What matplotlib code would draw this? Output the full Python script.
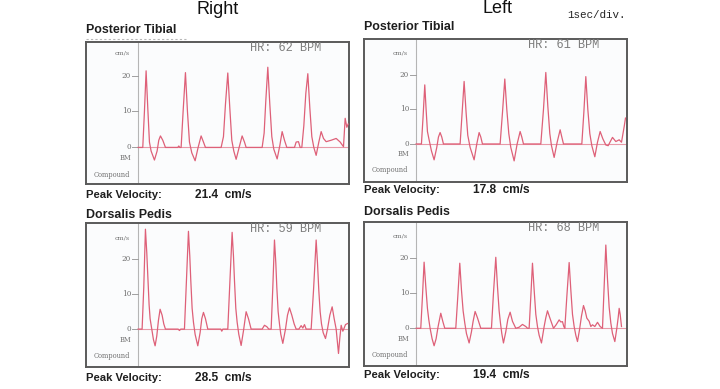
import matplotlib
matplotlib.use("Agg")
import matplotlib.pyplot as plt
from matplotlib.lines import Line2D

# ---------------- data (time in s from the vertical axis, velocity in cm/s) ----------------
right_pt_t = [0, 0.112, 0.152, 0.192, 0.232, 0.272, 0.312, 0.392, 0.456, 0.496, 0.536, 0.592, 0.656,
              0.952, 0.976, 1.000, 1.032, 1.080, 1.136, 1.184, 1.232, 1.288, 1.368, 1.440, 1.512, 1.568, 1.616,
              1.992, 2.048, 2.096, 2.152, 2.200, 2.248, 2.296, 2.352, 2.424, 2.496, 2.552, 2.592,
              2.976, 3.024, 3.064, 3.112, 3.160, 3.208, 3.256, 3.336, 3.400, 3.456, 3.512, 3.568,
              3.752, 3.792, 3.848, 3.888, 3.928, 3.976, 4.024, 4.072, 4.120, 4.168, 4.216, 4.272, 4.336,
              4.392, 4.448, 4.512, 4.632, 4.752, 4.848, 4.928, 4.968, 5.008, 5.040]
right_pt_v = [0, 0, 10, 21.3, 11, 1.5, -1, -3.5, -1, 2, 3.2, 2, 0,
              0, 0.4, 0, 0, 10, 20.8, 10, 1.5, -1.5, -3.7, 0, 3.2, 1.5, 0,
              0, 3, 12, 20.7, 11, 2, -1, -3.3, 0, 3.2, 1.5, 0,
              0, 4, 13, 22.3, 12, 3, -0.5, -3.2, 0.5, 4.4, 2, 0,
              0, 1.5, 1.6, 0, 0, 6, 15, 20.5, 11, 3, 0, -2.2, 1.5,
              4.4, 2.5, 1.6, 2, 2.5, 1.5, 0.2, 8.1, 5.6, 6.5]

left_pt_t = [0, 0.128, 0.168, 0.208, 0.240, 0.272, 0.312, 0.368, 0.432, 0.496, 0.536, 0.576, 0.616, 0.656,
             1.016, 1.056, 1.104, 1.152, 1.200, 1.240, 1.296, 1.392, 1.456, 1.512, 1.552, 1.592,
             1.976, 2.016, 2.072, 2.128, 2.176, 2.224, 2.272, 2.352, 2.424, 2.496, 2.536, 2.576,
             2.952, 2.992, 3.056, 3.112, 3.160, 3.208, 3.248, 3.312, 3.384, 3.456, 3.496, 3.536,
             3.936, 3.976, 4.024, 4.072, 4.120, 4.168, 4.216, 4.288, 4.352, 4.416, 4.480, 4.552,
             4.608, 4.664, 4.712, 4.792, 4.872, 4.928, 4.992, 5.024]
left_pt_v = [0, 0, 8, 17.1, 10, 3.6, 1.2, -2, -4.6, -1, 2, 3.3, 2, 0,
             0, 0, 9, 18.1, 9, 2.5, -1, -4.6, 0, 3.3, 2, 0,
             0, 0, 9, 18.8, 10, 3, -1, -4.9, 0, 3.6, 2, 0,
             0, 0, 10, 20.7, 11, 3, -0.5, -3.9, 0.5, 4.1, 2, 0,
             0, 0, 9, 19.5, 10, 3, -0.5, -3.7, 0.5, 3.6, 1.5, -0.3,
             -0.5, 0.8, 1.9, 0.7, 1.2, 0.5, 5.0, 7.5]

right_dp_t = [0, 0.096, 0.136, 0.176, 0.208, 0.232, 0.264, 0.288, 0.328, 0.368, 0.408, 0.448, 0.488, 0.528,
              0.576, 0.616, 0.656,
              0.960, 0.992, 1.024, 1.112, 1.160, 1.208, 1.240, 1.264, 1.296, 1.328, 1.368, 1.432, 1.488,
              1.528, 1.568, 1.616, 1.672,
              1.984, 2.008, 2.032, 2.152, 2.200, 2.256, 2.288, 2.312, 2.344, 2.376, 2.416, 2.472, 2.528,
              2.592, 2.648, 2.712,
              2.976, 3.032, 3.088, 3.136, 3.192, 3.232, 3.272, 3.304, 3.328, 3.360, 3.392, 3.424, 3.472,
              3.536, 3.584, 3.632, 3.688, 3.744, 3.792, 3.856, 3.912, 3.952, 3.992, 4.032,
              4.112, 4.152, 4.208, 4.272, 4.304, 4.336, 4.368, 4.400, 4.440, 4.496, 4.544, 4.600, 4.656,
              4.704, 4.752, 4.784, 4.808, 4.840, 4.872, 4.912, 4.944, 4.976, 5.024]
right_dp_v = [0, 0, 12, 28.7, 22, 15.5, 7, 3, 0, -3, -4.8, -2, 2.5, 5.7,
              4, 1.5, 0,
              0, -0.4, 0, 0, 14, 28.1, 21, 14, 6, 2, -1.5, -4.8, -1,
              3, 4.8, 3, 0,
              0, -0.6, 0, 0, 13, 27.8, 21, 14, 6, 2, -1.5, -4.7, -0.5,
              5.0, 3, 0,
              0, 1.1, 0.7, 0, 0, 12, 25.6, 19, 12, 5, 1.5, -1.5, -4.1,
              0, 4, 6.1, 4, 1.5, 0, 0, 1.0, 0.3, 1.3, 0,
              0, 0, 11, 25.6, 19, 11, 5, 1.5, -1, -2.7, 0, 4, 6.4,
              3, 0, -4, -7.0, -2.5, 1.1, -0.6, 0.3, 1.3, 1.6]

left_dp_t = [0, 0.112, 0.152, 0.192, 0.232, 0.272, 0.304, 0.336, 0.384, 0.432, 0.480, 0.528, 0.592, 0.640, 0.688,
             0.912, 0.952, 1.000, 1.048, 1.088, 1.128, 1.168, 1.208, 1.272, 1.328, 1.368, 1.416, 1.472, 1.552,
             1.768, 1.808, 1.856, 1.912, 1.952, 1.992, 2.024, 2.056, 2.096, 2.152, 2.200, 2.256, 2.312,
             2.392, 2.472, 2.552, 2.632, 2.672,
             2.712, 2.752, 2.792, 2.832, 2.872, 2.912, 2.952, 3.008, 3.072, 3.112, 3.152, 3.208, 3.296,
             3.360, 3.432, 3.472, 3.512, 3.544,
             3.568, 3.616, 3.672, 3.712, 3.752, 3.792, 3.832, 3.872, 3.920, 3.968, 4.016, 4.056, 4.096,
             4.152, 4.192, 4.232, 4.288, 4.352, 4.416,
             4.472, 4.512, 4.552, 4.592, 4.632, 4.672, 4.712, 4.768, 4.816, 4.848, 4.872, 4.896, 4.928]
left_dp_v = [0, 0, 9, 18.9, 12, 5.7, 2.5, 0, -3, -5.0, -3, 0.5, 4.3, 2, 0,
             0, 0, 9, 18.6, 11, 5, 1.5, -1.5, -4.2, -1, 2, 4.8, 3, 0,
             0, 0, 10, 20.3, 12, 5, 1.5, -1.5, -4.2, -1, 2.5, 4.6, 2,
             0, 0.3, 1.1, 0.5, 0,
             0, 9, 18.6, 11, 4, 0.5, -2, -4.2, 0.5, 3, 5.0, 3, 0,
             1, 2.4, 1.8, 1.9, 0.5,
             0, 9, 18.8, 11, 4, 0.5, -2, -3.8, -0.5, 3.5, 6.5, 5, 2.9,
             2, 0.5, 1, 0.5, 1.7, 0.5,
             0, 12, 23.8, 14, 6, 1.5, -1.5, -3.8, 0, 3, 5.7, 4, 0.5]

side_titles = ["Right", "Left"]
vessel_names = ["Posterior Tibial", "Posterior Tibial", "Dorsalis Pedis", "Dorsalis Pedis"]
heart_rates = [62, 61, 59, 68]
peak_velocities = ["21.4", "17.8", "28.5", "19.4"]
y_ticks = [0, 10, 20]

series_t = [right_pt_t, left_pt_t, right_dp_t, left_dp_t]
series_v = [right_pt_v, left_pt_v, right_dp_v, left_dp_v]

# ---------------- layout (pixel boxes: left, top, right, bottom) ----------------
W, H = 720, 389
boxes = [(86, 41.7, 349, 184.3), (364, 39.3, 627, 182.3),
         (86, 223.3, 349, 366.7), (364, 222.3, 627, 365.7)]
ylims = [(-10.25, 29.4), (-11.1, 30.3), (-10.8, 30.4), (-10.7, 30.3)]
name_y = [30, 27, 215, 212]
peak_y = [195, 190, 378, 375]
XLIM = (-1.25, 5.06)

wave_color = "#de6078"
zero_color = "#e89aa8"
frame_color = "#5a5a5a"
label_color = "#707070"
text_color = "#1e1e1e"

fig = plt.figure(figsize=(W / 100, H / 100), dpi=100)
fig.patch.set_facecolor("white")


def fx(x):
    return x / W


def fy(y):
    return 1 - y / H


for i in range(4):
    l, t, r, b = boxes[i]
    ax = fig.add_axes([fx(l), fy(b), (r - l) / W, (b - t) / H])
    ax.set_facecolor("#fbfcfd")
    ax.set_xlim(*XLIM)
    ax.set_ylim(*ylims[i])
    ax.set_xticks([])
    ax.set_yticks([])
    for s in ax.spines.values():
        s.set_color(frame_color)
        s.set_linewidth(1.4)

    ax.axvline(0, color="#b5b5b5", lw=0.8, zorder=1)
    ax.plot([0, XLIM[1]], [0, 0], color=zero_color, lw=0.8, zorder=2)
    for v in y_ticks:
        ax.plot([-0.14, 0], [v, v], color="#a0a0a0", lw=0.7, zorder=1)
        ax.text(-0.17, v, str(v), ha="right", va="center", fontsize=5.2,
                family="DejaVu Serif", color=label_color)
    ax.text(-0.39, 26.3, "cm/s", ha="center", va="center", fontsize=4.6,
            family="DejaVu Serif", color=label_color)
    ax.text(-0.30, -3.0, "BM", ha="center", va="center", fontsize=4.8,
            family="DejaVu Serif", color=label_color)
    ax.text(-0.62, -7.6, "Compound", ha="center", va="center", fontsize=4.8,
            family="DejaVu Serif", color=label_color)

    ax.plot(series_t[i], series_v[i], color=wave_color, lw=0.9, zorder=3,
            solid_joinstyle="round")

    ax.text(0.624, 0.958, f"HR: {heart_rates[i]} BPM", transform=ax.transAxes,
            ha="left", va="center", fontsize=8.6, family="Liberation Mono", color="#7d7d7d")

    fig.text(fx(l), fy(name_y[i]), vessel_names[i], ha="left", va="center",
             fontsize=8.9, family="Liberation Sans", weight="bold", color=text_color)
    fig.text(fx(l), fy(peak_y[i]), "Peak Velocity:", ha="left", va="center",
             fontsize=8.1, family="Liberation Sans", weight="bold", color=text_color)
    fig.text(fx(l + 109), fy(peak_y[i]), f"{peak_velocities[i]}  cm/s", ha="left",
             va="center", fontsize=8.6, family="Liberation Sans", weight="bold", color=text_color)

fig.text(fx(218), fy(9.5), side_titles[0], ha="center", va="center", fontsize=13,
         family="Liberation Sans", color="#111111")
fig.text(fx(497), fy(8.5), side_titles[1], ha="center", va="center", fontsize=13,
         family="Liberation Sans", color="#111111")
fig.text(fx(597), fy(15), "1sec/div.", ha="center", va="center", fontsize=7.8,
         family="Liberation Mono", color="#222222")

# faint dotted scan line under the first heading
fig.add_artist(Line2D([fx(86), fx(188)], [fy(38.5), fy(38.5)], color="#b8b8b8",
                      lw=0.8, ls=(0, (2, 2))))

fig.savefig("out.png", dpi=100, facecolor="white")
